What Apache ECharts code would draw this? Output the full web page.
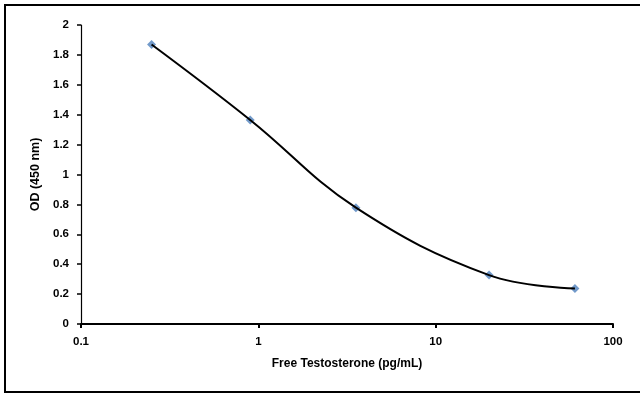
<!DOCTYPE html>
<html><head><meta charset="utf-8">
<script src="https://cdn.jsdelivr.net/npm/echarts@6/dist/echarts.min.js"></script>
<style>html,body{margin:0;padding:0;background:#fff}#c{width:640px;height:394px}</style>
</head><body><div id="c"></div>
<script>
var concentrations = [0.25, 0.9, 3.55, 20, 61];
var odValues = [1.87, 1.365, 0.778, 0.327, 0.238];
var xTicks = [0.1, 1, 10, 100];
var xName = 'Free Testosterone (pg/mL)';
var yName = 'OD (450 nm)';

var pts = concentrations.map(function(c, i){ return [c, odValues[i]]; });
var font = 'Liberation Sans, Arial, sans-serif';
var chart = echarts.init(document.getElementById('c'), null, {renderer:'canvas'});
chart.setOption({
  animation:false,
  backgroundColor:'#fff',
  graphic:[{type:'rect', shape:{x:5, y:5, width:650, height:387}, style:{fill:'none', stroke:'#000', lineWidth:2}, silent:true}],
  grid:{left:81, right:27, top:25, bottom:70},
  xAxis:{
    type:'log', logBase:10, min:xTicks[0], max:xTicks[xTicks.length-1],
    name:xName, nameLocation:'middle', nameGap:34,
    nameTextStyle:{fontFamily:font, fontWeight:'bold', fontSize:12, color:'#000'},
    axisLine:{lineStyle:{color:'#000', width:2}},
    axisTick:{show:true, inside:false, length:4, lineStyle:{color:'#000', width:2}},
    minorTick:{show:false},
    splitLine:{show:false},
    axisLabel:{fontFamily:font, fontWeight:'bold', fontSize:11.5, color:'#000', margin:12,
      formatter:function(v){ return String(+v.toPrecision(6)); }}
  },
  yAxis:{
    type:'value', min:0, max:2, interval:0.2,
    name:yName, nameLocation:'middle', nameGap:38, nameRotate:90,
    nameTextStyle:{fontFamily:font, fontWeight:'bold', fontSize:12.5, color:'#000'},
    axisLine:{show:true, lineStyle:{color:'#000', width:1.2}},
    axisTick:{show:true, inside:false, length:4, lineStyle:{color:'#000', width:1.5}},
    splitLine:{show:false},
    axisLabel:{fontFamily:font, fontWeight:'bold', fontSize:11.5, color:'#000', margin:12,
      formatter:function(v){ return String(+v.toFixed(1)); }}
  },
  series:[
    {type:'scatter', data:pts, symbol:'diamond', symbolSize:9, z:2,
      itemStyle:{color:'#4F81BD'}},
    {type:'line', data:pts, smooth:0.4, showSymbol:false, z:3,
      lineStyle:{color:'#000', width:2}}
  ]
});
</script></body></html>
